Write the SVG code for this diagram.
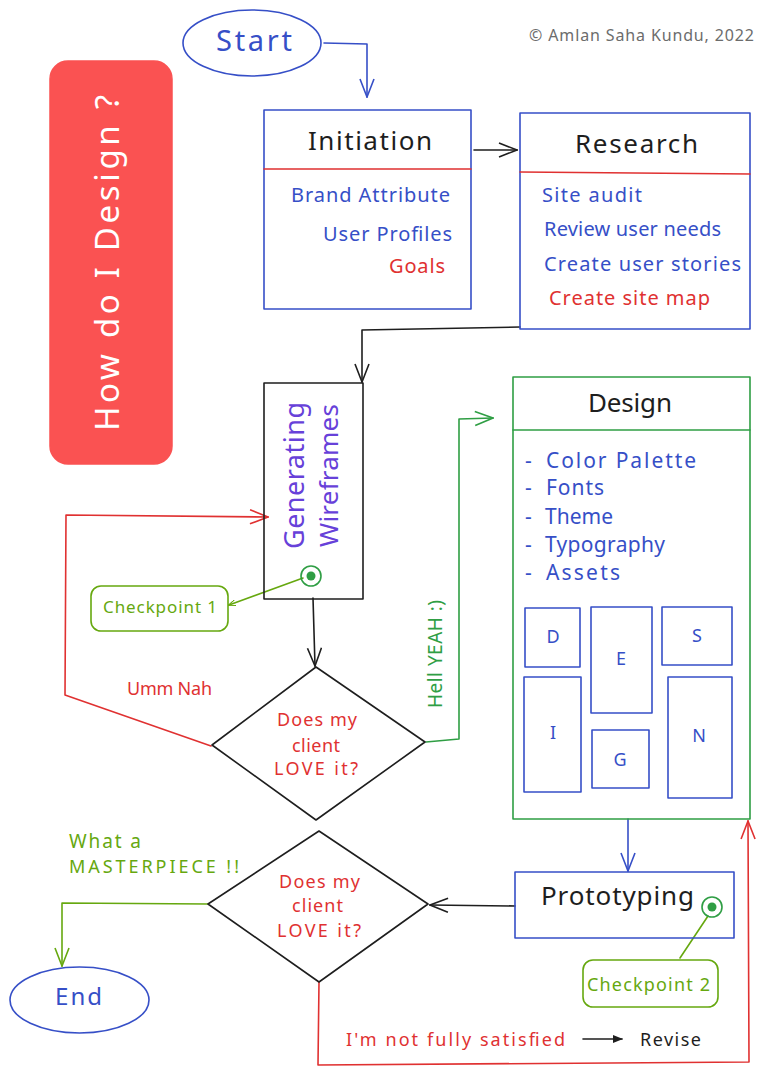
<svg xmlns="http://www.w3.org/2000/svg" width="763" height="1077" viewBox="0 0 763 1077">
<style>
text{font-family:"Noto Sans","Liberation Sans",sans-serif;}
.ln{fill:none;stroke-width:1.6;stroke-linejoin:round;stroke-linecap:round;}
.blue{stroke:#364fc7;}
.blk{stroke:#1e1e1e;}
.red{stroke:#e03131;}
.grn{stroke:#2f9e44;}
.olv{stroke:#66a80f;}
.tb{fill:#364fc7;}
.tr{fill:#e03131;}
.tk{fill:#1e1e1e;}
.tg{fill:#2f9e44;}
.to{fill:#66a80f;}
.tv{fill:#6741d9;}
</style>
<defs>
<marker id="ab" viewBox="0 0 20 16" refX="19" refY="8" markerWidth="20" markerHeight="16" markerUnits="userSpaceOnUse" orient="auto"><path d="M1,1 L19,8 L1,15" fill="none" stroke="#364fc7" stroke-width="1.6"/></marker>
<marker id="ak" viewBox="0 0 20 16" refX="19" refY="8" markerWidth="20" markerHeight="16" markerUnits="userSpaceOnUse" orient="auto"><path d="M1,1 L19,8 L1,15" fill="none" stroke="#1e1e1e" stroke-width="1.6"/></marker>
<marker id="ar" viewBox="0 0 20 16" refX="19" refY="8" markerWidth="20" markerHeight="16" markerUnits="userSpaceOnUse" orient="auto"><path d="M1,1 L19,8 L1,15" fill="none" stroke="#e03131" stroke-width="1.6"/></marker>
<marker id="ag" viewBox="0 0 20 16" refX="19" refY="8" markerWidth="20" markerHeight="16" markerUnits="userSpaceOnUse" orient="auto"><path d="M1,1 L19,8 L1,15" fill="none" stroke="#2f9e44" stroke-width="1.6"/></marker>
<marker id="ao" viewBox="0 0 20 16" refX="19" refY="8" markerWidth="20" markerHeight="16" markerUnits="userSpaceOnUse" orient="auto"><path d="M1,1 L19,8 L1,15" fill="none" stroke="#66a80f" stroke-width="1.6"/></marker>
<marker id="aks" viewBox="0 0 10 8" refX="9" refY="4" markerWidth="10" markerHeight="8" markerUnits="userSpaceOnUse" orient="auto"><path d="M0,0 L10,4 L0,8 Z" fill="#1e1e1e"/></marker>
<marker id="aos" viewBox="0 0 10 8" refX="1" refY="4" markerWidth="8" markerHeight="6" markerUnits="userSpaceOnUse" orient="auto"><path d="M10,0 L0,4 L10,8" fill="none" stroke="#66a80f" stroke-width="1.4"/></marker>
</defs>
<rect width="763" height="1077" fill="#ffffff"/>

<g id="connectors">
<path class="ln blue" d="M324,43 L367,44 L367,97" marker-end="url(#ab)"/>
<path class="ln blk" d="M474,150 L517,150" marker-end="url(#ak)"/>
<path class="ln blk" d="M520,327 L362,330 L362,382" marker-end="url(#ak)"/>
<path class="ln blk" d="M313,598 L315,666" marker-end="url(#ak)"/>
<path class="ln red" d="M211,746 L65,695 L66,515 L268,517" marker-end="url(#ar)"/>
<path class="ln grn" d="M426,742 L459,739 L459,419 L493,418" marker-end="url(#ag)"/>
<path class="ln blue" d="M628,819 L628,871" marker-end="url(#ab)"/>
<path class="ln blk" d="M515,906 L430,905" marker-end="url(#ak)"/>
<path class="ln olv" d="M208,904 L62,903 L62,966" marker-end="url(#ao)"/>
<path class="ln red" d="M319,982 L318,1065 L749,1062 L748,821" marker-end="url(#ar)"/>
<path class="ln olv" d="M229,605 L303,578" marker-start="url(#aos)"/>
<path class="ln olv" d="M708,916 L680,958"/>
<path class="ln blk" d="M583,1039 L622,1039" stroke-width="1.2" marker-end="url(#aks)"/>
</g>

<g id="title">
<rect x="50" y="61" width="122" height="403" rx="18" fill="#fa5252" stroke="#fa5252" stroke-width="1.5"/>
<text transform="translate(119,263) rotate(-90)" x="-168" y="0" font-size="33" fill="#ffffff" textLength="336">How do I Design ?</text>
</g>

<g id="copyright">
<text x="529" y="41" font-size="16" fill="#6c6c6c" textLength="225">© Amlan Saha Kundu, 2022</text>
</g>

<g id="start">
<ellipse cx="252" cy="43" rx="69" ry="33" class="ln blue"/>
<text x="216" y="51" font-size="29" class="tb" textLength="76">Start</text>
</g>

<g id="initiation">
<rect x="264" y="110" width="207" height="199" class="ln blue"/>
<line x1="264" y1="169" x2="471" y2="169" class="ln red"/>
<text x="308" y="150" font-size="26" class="tk" textLength="124">Initiation</text>
<text x="291" y="202" font-size="20" class="tb" textLength="159">Brand Attribute</text>
<text x="323" y="241" font-size="20" class="tb" textLength="129">User Profiles</text>
<text x="389" y="273" font-size="20" class="tr" textLength="56">Goals</text>
</g>

<g id="research">
<rect x="520" y="113" width="230" height="216" class="ln blue"/>
<line x1="520" y1="172" x2="750" y2="174" class="ln red"/>
<text x="575" y="153" font-size="26" class="tk" textLength="123">Research</text>
<text x="542" y="202" font-size="20" class="tb" textLength="100">Site audit</text>
<text x="544" y="236" font-size="20" class="tb" textLength="177">Review user needs</text>
<text x="544" y="271" font-size="20" class="tb" textLength="197">Create user stories</text>
<text x="549" y="305" font-size="20" class="tr" textLength="161">Create site map</text>
</g>

<g id="wireframes">
<rect x="264" y="383" width="99" height="216" class="ln blk"/>
<text transform="translate(304,476) rotate(-90)" x="-73" y="0" font-size="27" class="tv" textLength="147">Generating</text>
<text transform="translate(338,476) rotate(-90)" x="-71" y="0" font-size="26" class="tv" textLength="143">Wireframes</text>
<circle cx="311" cy="576" r="10" class="ln grn"/>
<circle cx="311" cy="576" r="4.5" fill="#2f9e44"/>
</g>

<g id="checkpoint1">
<rect x="91" y="586" width="137" height="45" rx="10" class="ln olv"/>
<text x="103" y="613" font-size="17" class="to" textLength="114">Checkpoint 1</text>
</g>

<g id="umm-nah">
<text x="127" y="695" font-size="18" class="tr" textLength="85">Umm Nah</text>
</g>

<g id="decision1">
<polygon points="316,667 425,742 316,820 212,745" class="ln blk"/>
<text x="277" y="726" font-size="18" class="tr" textLength="80">Does my</text>
<text x="292" y="752" font-size="18" class="tr" textLength="48">client</text>
<text x="274" y="775" font-size="18" class="tr" textLength="84">LOVE it?</text>
</g>

<g id="hell-yeah">
<text transform="translate(442,654) rotate(-90)" x="-54" y="0" font-size="19" class="tg" textLength="108">Hell YEAH :)</text>
</g>

<g id="design">
<rect x="513" y="377" width="237" height="442" class="ln grn"/>
<line x1="513" y1="430" x2="750" y2="430" class="ln grn"/>
<text x="588" y="412" font-size="26" class="tk" textLength="84">Design</text>
<g font-size="21" class="tb">
<text x="525" y="468">-</text><text x="546" y="468" textLength="150">Color Palette</text>
<text x="525" y="495">-</text><text x="546" y="495" textLength="58">Fonts</text>
<text x="525" y="524">-</text><text x="545" y="524" textLength="68">Theme</text>
<text x="525" y="552">-</text><text x="545" y="552" textLength="120">Typography</text>
<text x="525" y="580">-</text><text x="546" y="580" textLength="74">Assets</text>
</g>
<g class="ln blue" stroke-width="1.3">
<rect x="525" y="608" width="55" height="59"/>
<rect x="591" y="607" width="61" height="106"/>
<rect x="662" y="607" width="70" height="58"/>
<rect x="524" y="677" width="57" height="115"/>
<rect x="592" y="730" width="57" height="58"/>
<rect x="668" y="677" width="64" height="121"/>
</g>
<g font-size="18" class="tb" text-anchor="middle">
<text x="553" y="643">D</text>
<text x="621" y="665">E</text>
<text x="697" y="642">S</text>
<text x="553" y="739">I</text>
<text x="620" y="766">G</text>
<text x="699" y="742">N</text>
</g>
</g>

<g id="prototyping">
<rect x="515" y="872" width="219" height="66" class="ln blue"/>
<text x="541" y="905" font-size="26" class="tk" textLength="153">Prototyping</text>
<circle cx="712" cy="907" r="10" class="ln grn"/>
<circle cx="712" cy="907" r="4.5" fill="#2f9e44"/>
</g>

<g id="checkpoint2">
<rect x="583" y="960" width="135" height="47" rx="10" class="ln olv"/>
<text x="587" y="991" font-size="18" class="to" textLength="123">Checkpoint 2</text>
</g>

<g id="decision2">
<polygon points="319,831 428,904 319,982 208,904" class="ln blk"/>
<text x="279" y="888" font-size="18" class="tr" textLength="81">Does my</text>
<text x="292" y="912" font-size="18" class="tr" textLength="51">client</text>
<text x="277" y="937" font-size="18" class="tr" textLength="84">LOVE it?</text>
</g>

<g id="masterpiece">
<text x="69" y="848" font-size="19" class="to" textLength="72">What a</text>
<text x="69" y="873" font-size="18" class="to" textLength="170">MASTERPIECE !!</text>
</g>

<g id="end">
<ellipse cx="79.5" cy="1000" rx="69.5" ry="33" class="ln blue"/>
<text x="55" y="1005" font-size="24" class="tb" textLength="47">End</text>
</g>

<g id="revise">
<text x="346" y="1046" font-size="18" class="tr" textLength="219">I'm not fully satisfied</text>
<text x="640" y="1046" font-size="18" class="tk" textLength="61">Revise</text>
</g>
</svg>
